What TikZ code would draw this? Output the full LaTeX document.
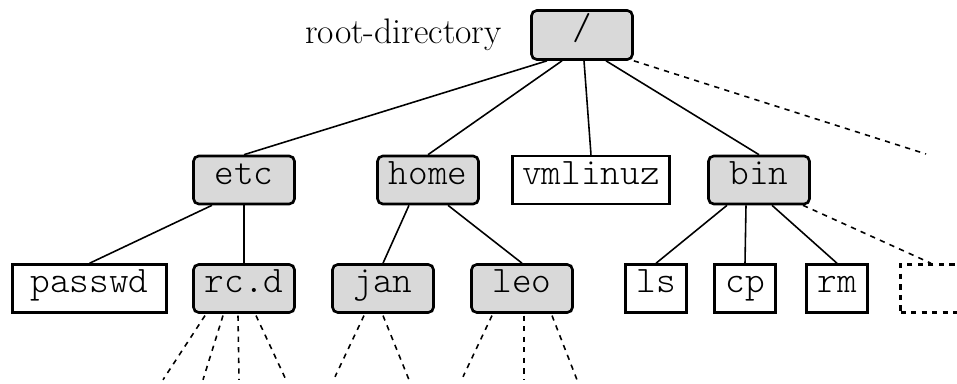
\documentclass[tikz,border=0pt]{standalone}
\usepackage{tikz}
\usetikzlibrary{positioning}

\definecolor{dirgray}{gray}{0.85}
\newcommand{\dirfont}{\fontsize{21.3}{24}\ttfamily\fontseries{l}\selectfont}
\newcommand{\labelfont}{\fontsize{20.2}{24}\selectfont}

\begin{document}
\begin{tikzpicture}[semithick,
  dir/.style={draw,line width=1.5pt,rounded corners=3pt,fill=dirgray,minimum width=2.02cm,minimum height=0.96cm,font=\dirfont,text height=0.62em,text depth=0.15em},
  file/.style={draw,line width=1.4pt,fill=white,minimum width=1.22cm,minimum height=0.96cm,inner xsep=0.19cm,font=\dirfont,text height=0.62em,text depth=0.15em},
  more/.style={draw,dashed,line width=1.4pt,minimum width=1.22cm,minimum height=0.96cm},
  link/.style={line width=0.9pt},
  hint/.style={dashed,line width=0.9pt}]
	  \useasboundingbox (0,0) rectangle (19.14,7.68);
	  % root and first level
	  \node[dir,minimum height=0.98cm] (rootdir) at (11.64,6.98) {/};
	  \node[font=\labelfont,inner sep=0pt,left=0.56cm of rootdir] (rootlabel) {root-directory};
	  \node[dir]  (etc)     at (4.88,4.08)  {etc};
	  \node[dir]  (home)    at (8.56,4.08)  {home};
	  \node[file] (vmlinuz) at (11.82,4.08) {vmlinuz};
	  \node[dir]  (bin)     at (15.18,4.08) {bin};
	  % second level
	  \node[file,minimum width=3.08cm] (passwd) at (1.79,1.91) {passwd};
	  \node[dir]  (rcd) at (4.88,1.91)  {rc.d};
	  \node[dir]  (jan) at (7.66,1.91)  {jan};
	  \node[dir]  (leo) at (10.44,1.91) {leo};
	  \node[file] (ls)  at (13.12,1.91) {ls};
	  \node[file] (cp)  at (14.9,1.91)  {cp};
	  \node[file] (rm)  at (16.74,1.91) {rm};
	  \node[more] (etcetera) at (18.62,1.91) {};
	  \coordinate (rootmore) at (18.52,4.60);
	  \path[link]
([xshift=-0.7cm]rootdir.south)  edge (etc.north)
([xshift=-0.4cm]rootdir.south)  edge (home.north)
([xshift=0.04cm]rootdir.south)  edge (vmlinuz.north)
([xshift=0.48cm]rootdir.south)  edge (bin.north)
([xshift=-0.64cm]etc.south)     edge (passwd.north)
(etc.south)                     edge (rcd.north)
([xshift=-0.38cm]home.south)    edge (jan.north)
([xshift=0.4cm]home.south)      edge (leo.north)
([xshift=-0.64cm]bin.south)     edge (ls.north)
([xshift=-0.26cm]bin.south)     edge (cp.north)
([xshift=0.26cm]bin.south)      edge (rm.north)
;
	  \path[hint]
(rootdir.south east)            edge (rootmore)
([xshift=0.88cm]bin.south)      edge (etcetera.north)
;
	  % unseen contents
	  \foreach \s/\e in {-0.78/-1.62,-0.42/-0.82,-0.12/-0.1,0.24/0.84}
	    \draw[hint] ([xshift=\s cm,yshift=-1pt]rcd.south) -- ([xshift=\e cm,yshift=-1.32cm]rcd.south);
	  \foreach \s/\e/\d in {-0.38/-0.96/1.26,0/0.52/1.32}
	    \draw[hint] ([xshift=\s cm,yshift=-1pt]jan.south) -- ([xshift=\e cm,yshift=-\d cm]jan.south);
	  \foreach \s/\e/\d in {-0.6/-1.18/1.26,0.04/0.04/1.32,0.6/1.1/1.32}
	    \draw[hint] ([xshift=\s cm,yshift=-1pt]leo.south) -- ([xshift=\e cm,yshift=-\d cm]leo.south);
	\end{tikzpicture}
\end{document}
